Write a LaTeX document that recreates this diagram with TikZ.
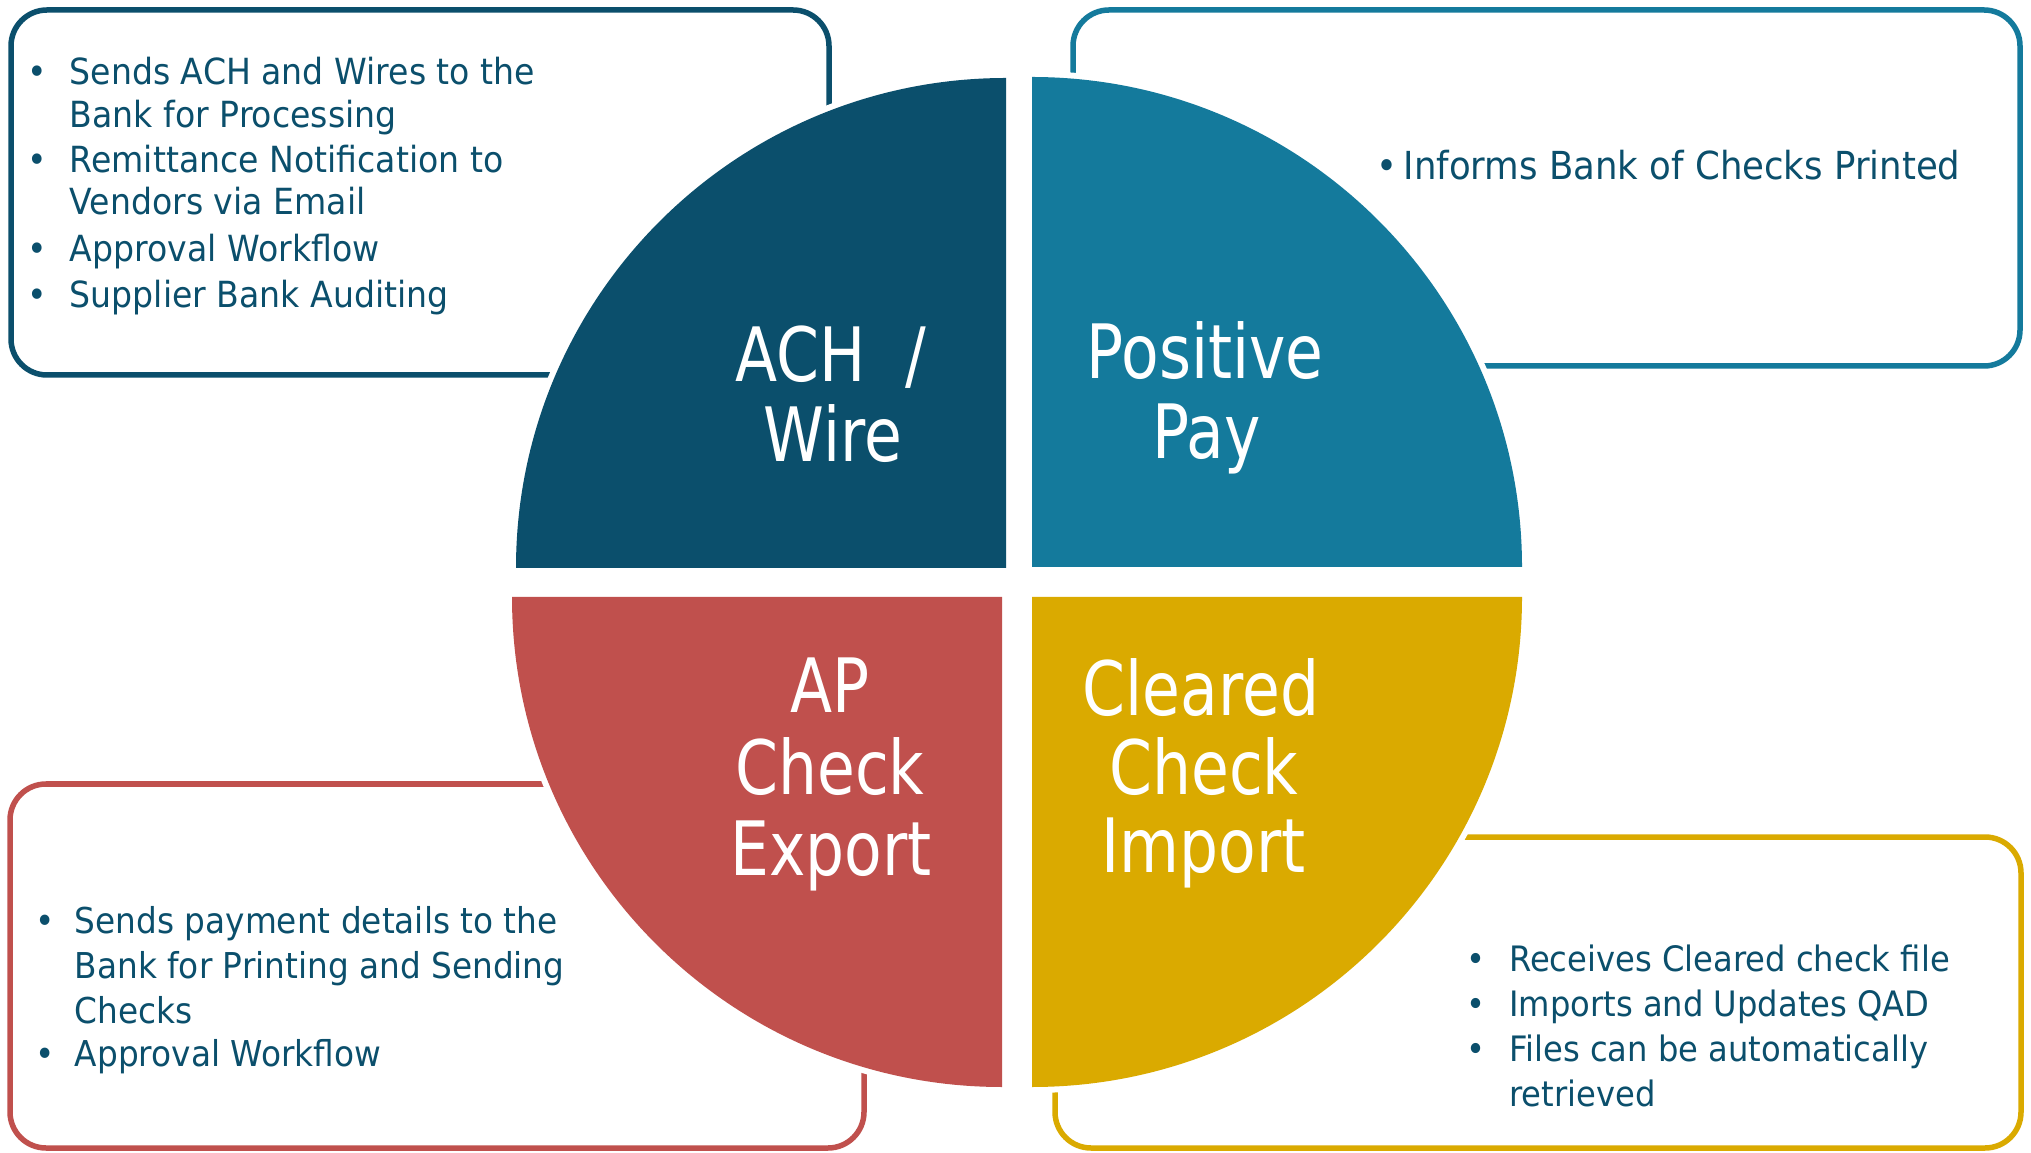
\documentclass[tikz,border=0pt]{standalone}
\usepackage{fontspec}
\setmainfont{DejaVu Sans}
\newfontfamily\titlefont{DejaVu Sans}[FakeStretch=0.82]
\newfontfamily\bodyfont{DejaVu Sans}[FakeStretch=0.92]
\definecolor{achc}{HTML}{0B4F6C}
\definecolor{posc}{HTML}{147A9C}
\definecolor{apc}{HTML}{C0504D}
\definecolor{clrc}{HTML}{DAAA00}
\definecolor{txtc}{HTML}{0B4F6C}
\begin{document}
\begin{tikzpicture}[x=1pt,y=1pt,
  title/.style={text=white, font=\titlefont\fontsize{75}{80}\selectfont, inner sep=0pt, anchor=base},
  body/.style={text=txtc, font=\bodyfont\fontsize{#1}{42}\selectfont, inner sep=0pt, anchor=base west},
  body/.default=36,
  bul/.style={text=txtc, font=\bodyfont\fontsize{#1}{42}\selectfont, inner sep=0pt, anchor=base},
  bul/.default=36,
  infobox/.style={draw=#1, line width=5.5pt, rounded corners=36pt, inner sep=0pt, outer sep=0pt, fill=white},
  quad/.style={fill=#1, preaction={draw=white, line width=12pt}}
]
\useasboundingbox (0,0) rectangle (2031,1152);
\fill[white] (0,0) rectangle (2031,1152);

% info boxes
\node[infobox=achc, minimum width=818pt, minimum height=365pt] (boxTL) at (420,959.5) {};
\node[infobox=posc, minimum width=947pt, minimum height=356pt] (boxTR) at (1546.5,964) {};
\node[infobox=apc, minimum width=854pt, minimum height=364pt] (boxBL) at (437,186) {};
\node[infobox=clrc, minimum width=966pt, minimum height=311pt] (boxBR) at (1538,159.5) {};

% quadrants
\path[quad=achc] (1006,584) -- (516,584) arc (180:90:490) -- cycle;
\path[quad=posc] (1032,585) -- (1032,1075) arc (90:0:490) -- cycle;
\path[quad=apc] (1002,555) -- (1002,65) arc (270:180:490) -- cycle;
\path[quad=clrc] (1032,555) -- (1522,555) arc (0:-90:490) -- cycle;

% titles
\node[title] (achA) at (831,770.3) {ACH \hspace{20pt}/};
\node[title] (achB) at (833,690.3) {Wire};
\node[title] (posA) at (1205,773) {Positive};
\node[title] (posB) at (1206.5,693) {Pay};
\node[title] (apA) at (830,439) {AP};
\node[title] (apB) at (830,358) {Check};
\node[title] (apC) at (831,277) {Export};
\node[title] (clA) at (1201,436) {Cleared};
\node[title] (clB) at (1204,358) {Check};
\node[title] (clC) at (1203.5,280) {Import};

% top-left text
\node[bul] (tlb1) at (37.5,1067) {•};
\node[body] (tl1) at (69.6,1067) {Sends ACH and Wires to the};
\node[body] (tl2) at (69.6,1024.3) {Bank for Processing};
\node[bul] (tlb2) at (37.5,979) {•};
\node[body] (tl3) at (69.6,979) {Remittance Notification to};
\node[body] (tl4) at (69.6,937) {Vendors via Email};
\node[bul] (tlb3) at (37.5,890.3) {•};
\node[body] (tl5) at (69.6,890.3) {Approval Workflow};
\node[bul] (tlb4) at (37.5,844) {•};
\node[body] (tl6) at (69.6,844) {Supplier Bank Auditing};

% top-right text
\node[bul=38.6] (trb1) at (1387,972) {•};
\node[body=38.6] (tr1) at (1403.5,972) {Informs Bank of Checks Printed};

% bottom-left text
\node[bul=35.6] (blb1) at (45,219) {•};
\node[body=35.6] (bl1) at (74.6,219) {Sends payment details to the};
\node[body=35.6] (bl2) at (74.6,174) {Bank for Printing and Sending};
\node[body=35.6] (bl3) at (74.6,129) {Checks};
\node[bul=35.6] (blb2) at (45,85.3) {•};
\node[body=35.6] (bl4) at (74.6,85.3) {Approval Workflow};

% bottom-right text
\node[bul=35] (brb1) at (1476,180.3) {•};
\node[body=35] (br1) at (1509,180.3) {Receives Cleared check file};
\node[bul=35] (brb2) at (1476,135.3) {•};
\node[body=35] (br2) at (1509,135.3) {Imports and Updates QAD};
\node[bul=35] (brb3) at (1476,90.3) {•};
\node[body=35] (br3) at (1509,90.3) {Files can be automatically};
\node[body=35] (br4) at (1509,45.3) {retrieved};
\end{tikzpicture}
\end{document}
